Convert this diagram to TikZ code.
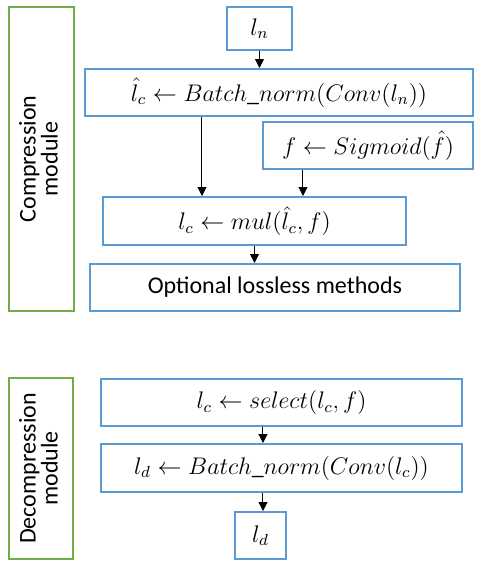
\documentclass[tikz,border=0pt]{standalone}
\usepackage{amsmath}
\usepackage{fontspec}
\setmainfont{Carlito}
\usepackage{tikz}
\usetikzlibrary{arrows.meta,positioning}
\usepackage{xcolor}
\definecolor{cmblue}{RGB}{91,155,213}
\definecolor{cmgreen}{RGB}{112,173,71}
\tikzstyle{stage} = [rectangle, draw=cmblue, line width=1pt, fill=white, text centered, inner sep=0pt, font=\fontsize{12}{14}\selectfont]
\tikzstyle{module} = [rectangle, draw=cmgreen, line width=1pt, inner sep=0pt, align=center, font=\fontsize{12}{13}\selectfont]
\tikzstyle{arrow} = [line width=0.5pt,-{Triangle[length=4.5pt,width=4.5pt]}]

\begin{document}
\begin{tikzpicture}[x=0.5pt,y=-0.5pt]
\useasboundingbox (0,0) rectangle (479,570);
% Compression module
\node (comp) [module, minimum width=32.5pt, minimum height=152pt] at (41.5,159) {\rotatebox{90}{\begin{tabular}{c}Compression\\[-2pt]module\end{tabular}}};
\node (ln) [stage, minimum width=32.5pt, minimum height=21.5pt] at (259.5,28.5) {$l_n$};
\node (bn) [stage, minimum width=194pt, minimum height=23.5pt] at (279,92.5) {$\hat{l}_c \leftarrow Batch\_norm(Conv(l_n))$};
\node (sig) [stage, minimum width=105pt, minimum height=23.5pt] at (368,145.5) {$f \leftarrow Sigmoid(\hat{f})$};
\node (mul) [stage, minimum width=151.5pt, minimum height=24pt] at (254.5,221) {$l_c \leftarrow mul(\hat{l}_c, f)$};
\node (opt) [stage, minimum width=185pt, minimum height=23.5pt] at (275,287.5) {Optional lossless methods};

% Decompression module
\node (dcomp) [module, minimum width=32pt, minimum height=90.5pt] at (41.5,468.5) {\rotatebox{90}{\begin{tabular}{c}Decompression\\[-2pt]module\end{tabular}}};
\node (sel) [stage, minimum width=180.5pt, minimum height=23.5pt] at (281.5,402.5) {$l_c \leftarrow select(l_c, f)$};
\node (bn2) [stage, minimum width=180.5pt, minimum height=24pt] at (281.5,468) {$l_d \leftarrow Batch\_norm(Conv(l_c))$};
\node (ld) [stage, minimum width=25.5pt, minimum height=23.5pt] at (260.5,535.5) {$l_d$};

% Arrows
\coordinate (c1) at (202,0);
\coordinate (c2) at (303,0);
\coordinate (c3) at (263,0);
\draw[arrow] (ln.south) -- (ln.south |- bn.north);
\draw[arrow] (bn.south -| c1) -- (mul.north -| c1);
\draw[arrow] (sig.south -| c2) -- (mul.north -| c2);
\draw[arrow] (mul.south) -- (mul.south |- opt.north);
\draw[arrow] (sel.south -| c3) -- (bn2.north -| c3);
\draw[arrow] (bn2.south -| c3) -- (ld.north -| c3);
\end{tikzpicture}
\end{document}
